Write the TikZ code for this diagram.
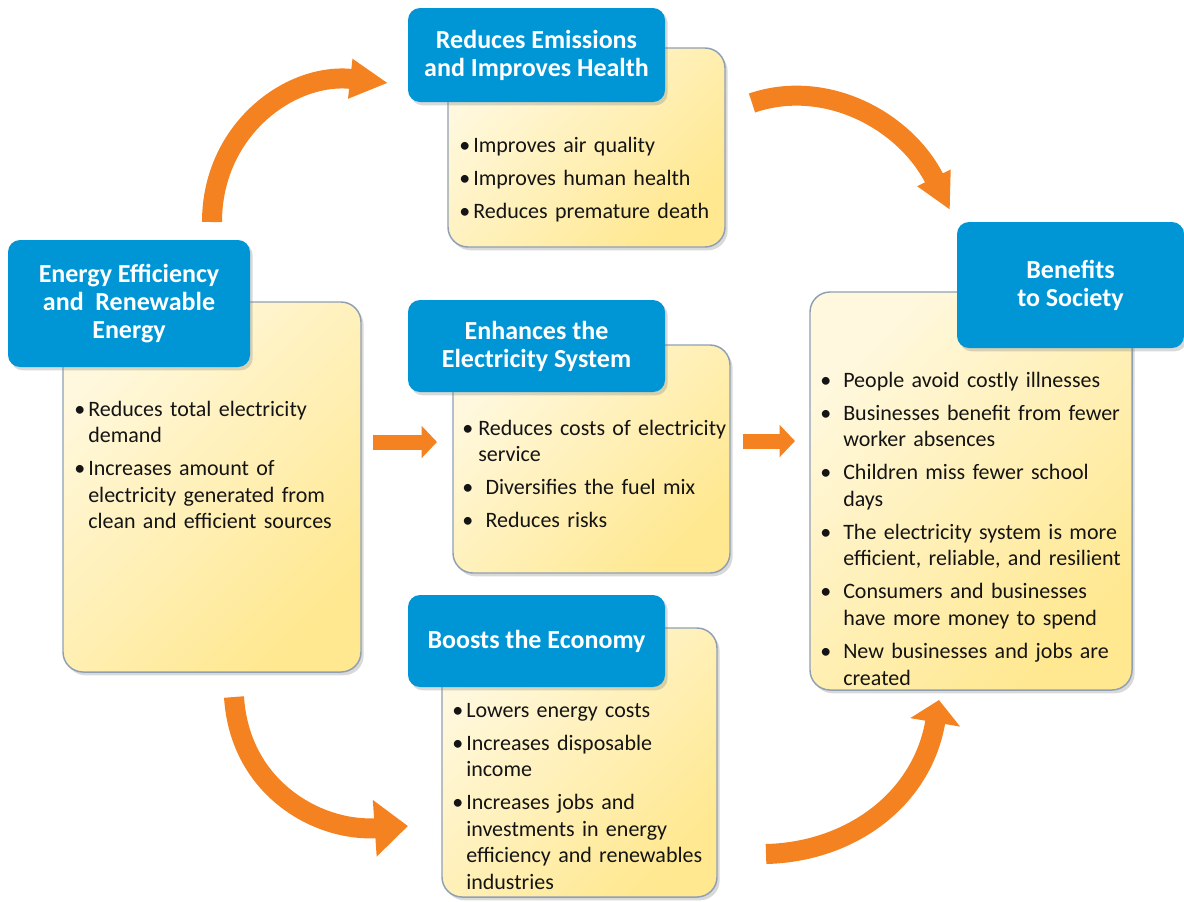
\documentclass[tikz,border=0pt]{standalone}
\usepackage{fontspec}
\setmainfont{Carlito}
\usetikzlibrary{arrows.meta,shadows}
\definecolor{hblue}{HTML}{0096D6}
\definecolor{aorange}{HTML}{F58220}
\definecolor{ylight}{HTML}{FFF8DE}
\definecolor{ydark}{HTML}{FFE890}
\definecolor{yborder}{HTML}{8FA0B5}
\definecolor{textc}{HTML}{141414}
\newlength\bulind
\newcommand\mybul[1]{\par\hangindent=\bulind\hangafter=1\noindent\makebox[\bulind][l]{\textbullet}#1\par}
\newcommand\nl{\hfil\break}
\begin{document}
\begin{tikzpicture}[x=0.75pt,y=-0.75pt,
  ybox/.style={draw=yborder, line width=1.1pt, rounded corners=15pt,
    left color=ylight, right color=ydark, shading angle=45,
    drop shadow={shadow xshift=2pt,shadow yshift=-2.5pt,opacity=0.3},
    inner sep=0pt},
  hbox/.style={fill=hblue, rounded corners=9pt, text=white,
    font=\fontsize{19.5}{21}\selectfont\bfseries, align=center, inner sep=0pt,
    drop shadow={shadow xshift=2pt,shadow yshift=-2.5pt,opacity=0.3}},
  blist/.style={anchor=base west, inner sep=0pt, text width=#1, align=left,
    font=\fontsize{16.5}{19.9}\selectfont, text=textc},
  carrow/.style={draw=aorange, line width=15pt},
  sarrow/.style={draw=aorange, line width=11.25pt, -{Triangle[length=11.5pt,width=23.5pt]}}
]
\useasboundingbox (0,0) rectangle (1184,901);

% yellow body boxes
\node[ybox, minimum width=223.5pt, minimum height=277.5pt] (eeY) at (212,487) {};
\node[ybox, minimum width=207.75pt, minimum height=149.25pt] (emY) at (586.5,147.5) {};
\node[ybox, minimum width=207.75pt, minimum height=171pt] (elY) at (591.5,459) {};
\node[ybox, minimum width=206.25pt, minimum height=201.75pt] (ecY) at (579.5,762.5) {};
\node[ybox, minimum width=241.5pt, minimum height=298.5pt] (soY) at (971,491) {};

% blue headers
\node[hbox, minimum width=181.5pt, minimum height=95.25pt] (eeH) at (129,303.5) {Energy Efficiency\\and~~Renewable\\Energy};
\node[hbox, minimum width=192.75pt, minimum height=70.5pt] (emH) at (536.5,55) {Reduces Emissions\\and Improves Health};
\node[hbox, minimum width=192.75pt, minimum height=69pt] (elH) at (536.5,346) {Enhances the\\Electricity System};
\node[hbox, minimum width=192.75pt, minimum height=69pt] (ecH) at (536.5,641) {Boosts the Economy};
\node[hbox, minimum width=170.25pt, minimum height=94.5pt] (soH) at (1070.5,285) {Benefits\\to Society};

% bullet lists
\node[blist=230pt] (eeL) at (74,383) {\setlength\parskip{4.9pt}\setlength\bulind{10.5pt}%
  \mybul{Reduces total electricity\nl demand}%
  \mybul{Increases amount of\nl electricity generated from\nl clean and efficient sources}};
\node[blist=215pt] (emL) at (459,119) {\setlength\parskip{4.9pt}\setlength\bulind{10.5pt}%
  \mybul{Improves air quality}%
  \mybul{Improves human health}%
  \mybul{Reduces premature death}};
\node[blist=220pt] (elL) at (462,402) {\setlength\parskip{4.9pt}\setlength\bulind{12pt}%
  \mybul{Reduces costs of electricity\nl service}%
  \mybul{\ Diversifies the fuel mix}%
  \mybul{\ Reduces risks}};
\node[blist=220pt] (ecL) at (452,684) {\setlength\parskip{4.9pt}\setlength\bulind{10.5pt}%
  \mybul{Lowers energy costs}%
  \mybul{Increases disposable\nl income}%
  \mybul{Increases jobs and\nl investments in energy\nl efficiency and renewables\nl industries}};
\node[blist=260pt] (soL) at (820,354) {\setlength\parskip{4.9pt}\setlength\bulind{17.25pt}%
  \mybul{People avoid costly illnesses}%
  \mybul{Businesses benefit from fewer\nl worker absences}%
  \mybul{Children miss fewer school\nl days}%
  \mybul{The electricity system is more\nl efficient, reliable, and resilient}%
  \mybul{Consumers and businesses\nl have more money to spend}%
  \mybul{New businesses and jobs are\nl created}};

% connector end points
\coordinate (a1s) at (212,222);
\coordinate (a1e) at (388,83);
\coordinate (a2s) at (752,103);
\coordinate (a2e) at (950,210);
\coordinate (a3s) at (234,697);
\coordinate (a3e) at (408,826);
\coordinate (a4s) at (766,854);
\coordinate (a4e) at (939,700);
\coordinate (s1s) at (373,442);
\coordinate (s1e) at (437,442);
\coordinate (s2s) at (743,441);
\coordinate (s2e) at (795,441);

% curved arrows
\draw[carrow, -{Triangle[length=28.5pt,width=28pt]}] (a1s) .. controls (212,130) and (290,72) .. (a1e);
\draw[carrow, -{Triangle[length=27pt,width=26pt]}] (a2s) .. controls (825,78) and (905,120) .. (a2e);
\draw[carrow, -{Triangle[length=25pt,width=41pt]}] (a3s) .. controls (240,790) and (320,832) .. (a3e);
\draw[carrow, -{Triangle[length=17pt,width=37pt]}] (a4s) .. controls (850,852) and (922,800) .. (a4e);

% straight arrows
\draw[sarrow] (s1s) -- (s1e);
\draw[sarrow] (s2s) -- (s2e);
\end{tikzpicture}
\end{document}
